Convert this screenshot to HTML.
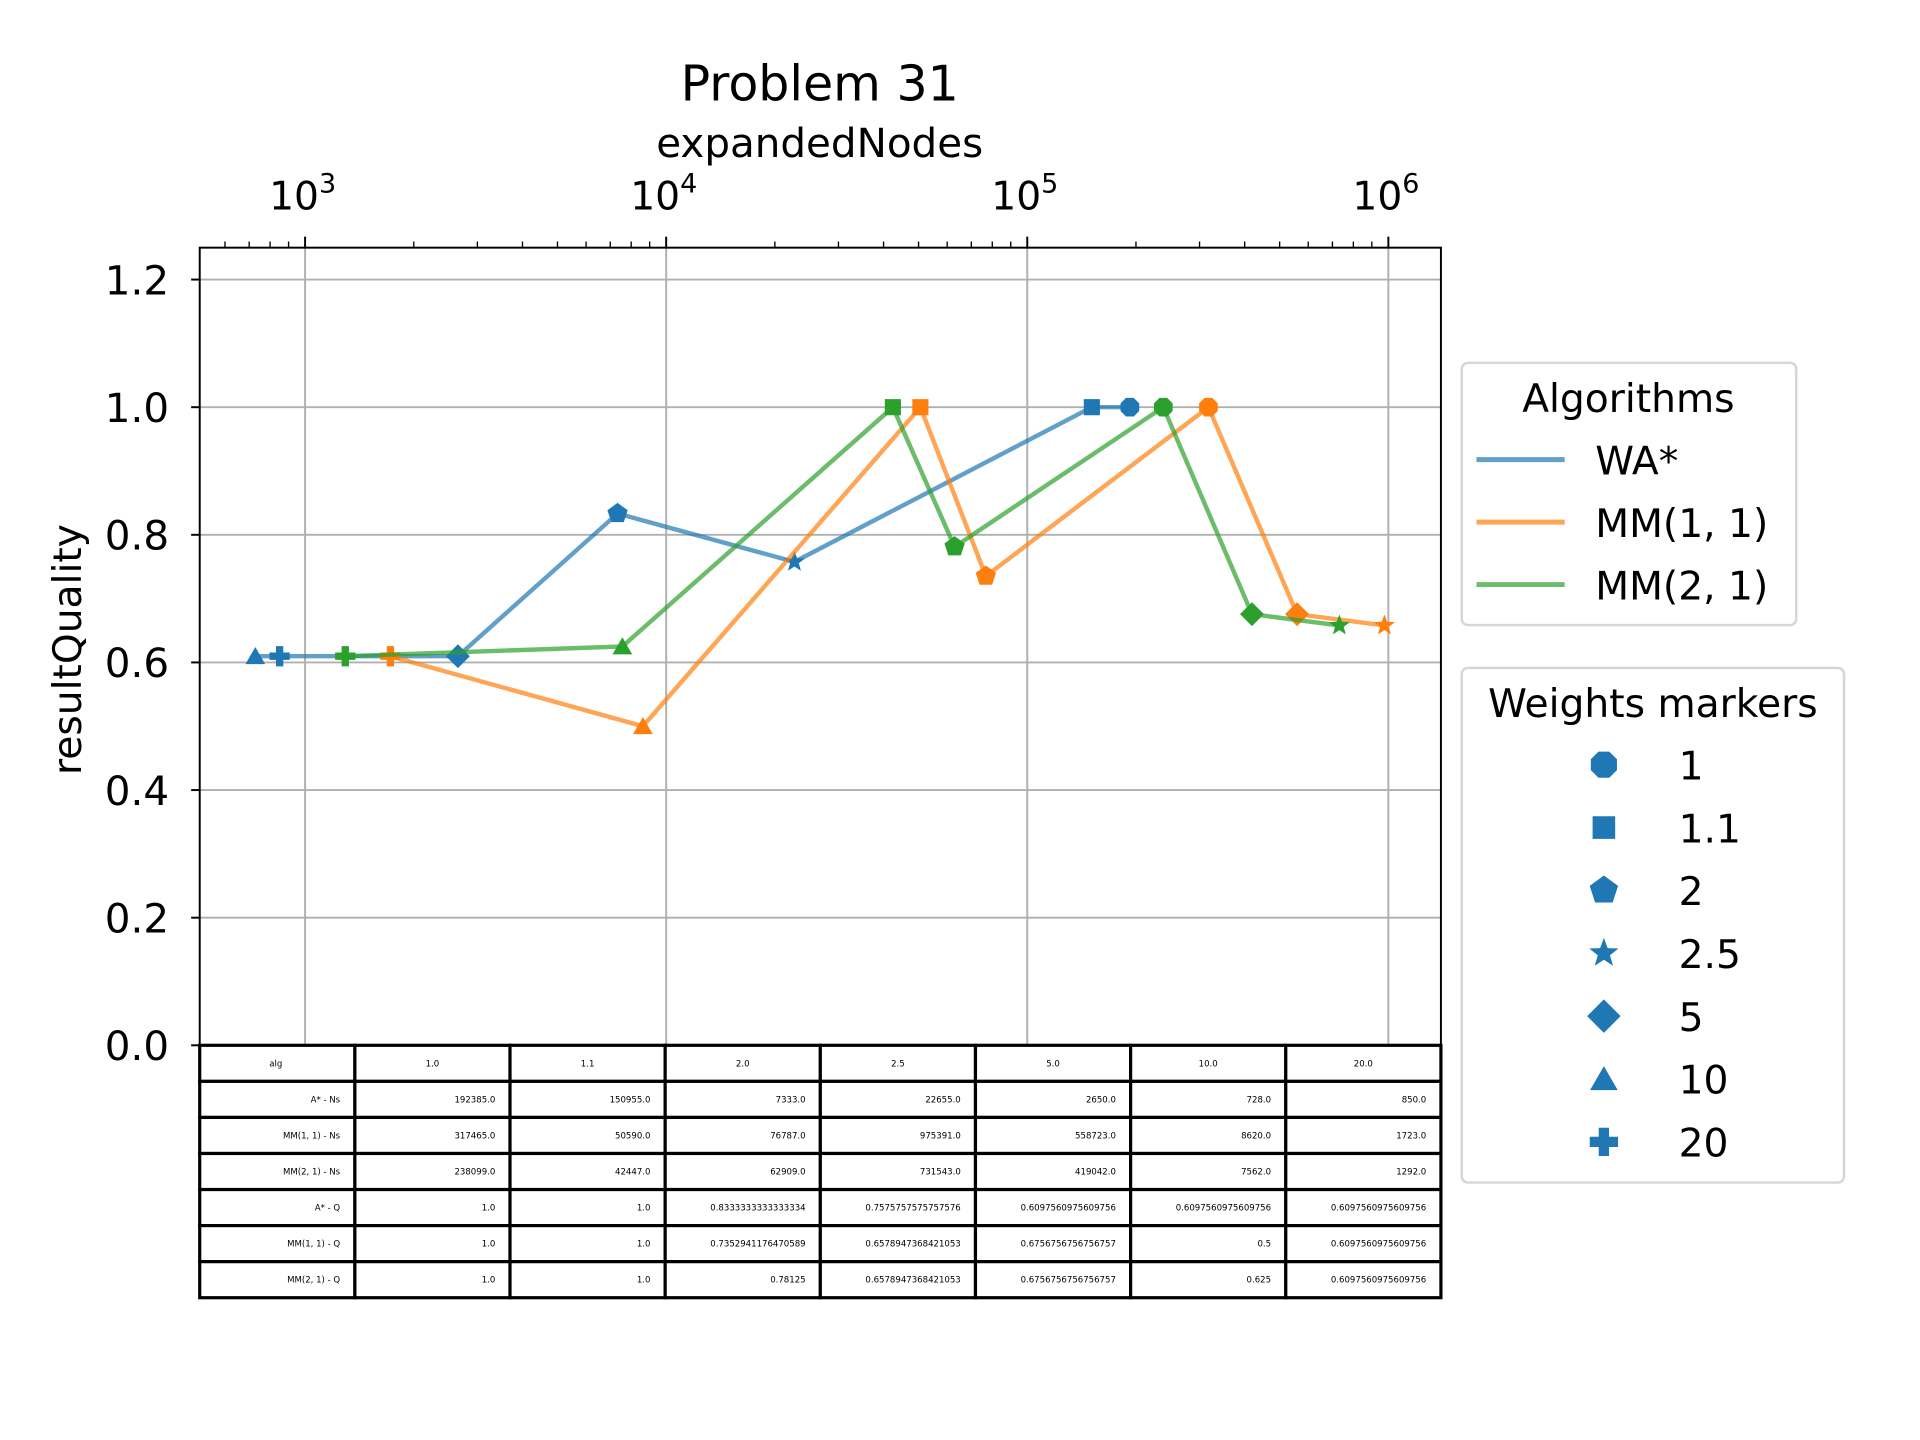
<!DOCTYPE html>
<html><head><meta charset="utf-8"><style>
html,body{margin:0;padding:0;background:#fff;}
svg{display:block;font-family:"DejaVu Sans","Liberation Sans",sans-serif;}
</style></head><body>
<svg id="chart" width="1920" height="1440" viewBox="0 0 1567 1175" xmlns="http://www.w3.org/2000/svg">
<rect width="1567" height="1175" fill="#fff"/>
<g id="grid"></g>
<g id="series"></g>
<g id="axes"></g>
<g id="table"></g>
<g id="legends"></g>
<text x="669" y="82" font-size="40" text-anchor="middle">Problem 31</text>
<text x="669" y="128" font-size="33" text-anchor="middle">expandedNodes</text>
<text x="0" y="0" font-size="32" text-anchor="middle" transform="translate(66,530) rotate(-90)">resultQuality</text>
</svg>
<script>
const weights = ["1","1.1","2","2.5","5","10","20"];
const algNames = ["WA*","MM(1, 1)","MM(2, 1)"];
const colors = ["#1f77b4","#ff7f0e","#2ca02c"];
const markers = ["oct","square","pent","star","diamond","tri","plus"];
const nodesWA = [192385,150955,7333,22655,2650,728,850];
const nodesMM11 = [317465,50590,76787,975391,558723,8620,1723];
const nodesMM21 = [238099,42447,62909,731543,419042,7562,1292];
const qWA = [1.0,1.0,0.8333333333333334,0.7575757575757576,0.6097560975609756,0.6097560975609756,0.6097560975609756];
const qMM11 = [1.0,1.0,0.7352941176470589,0.6578947368421053,0.6756756756756757,0.5,0.6097560975609756];
const qMM21 = [1.0,1.0,0.78125,0.6578947368421053,0.6756756756756757,0.625,0.6097560975609756];
const yTicks = [0,0.2,0.4,0.6,0.8,1.0,1.2];
const xDecades = [3,4,5,6];
const tableHeader = ["alg","1.0","1.1","2.0","2.5","5.0","10.0","20.0"];
const tableRowLabels = ["A* - Ns","MM(1, 1) - Ns","MM(2, 1) - Ns","A* - Q","MM(1, 1) - Q","MM(2, 1) - Q"];
const tableRowValues = [
 ["192385.0","150955.0","7333.0","22655.0","2650.0","728.0","850.0"],
 ["317465.0","50590.0","76787.0","975391.0","558723.0","8620.0","1723.0"],
 ["238099.0","42447.0","62909.0","731543.0","419042.0","7562.0","1292.0"],
 ["1.0","1.0","0.8333333333333334","0.7575757575757576","0.6097560975609756","0.6097560975609756","0.6097560975609756"],
 ["1.0","1.0","0.7352941176470589","0.6578947368421053","0.6756756756756757","0.5","0.6097560975609756"],
 ["1.0","1.0","0.78125","0.6578947368421053","0.6756756756756757","0.625","0.6097560975609756"]
];
const NS="http://www.w3.org/2000/svg";
const L=163,R=1176,T=202,B=853;
const xMin=Math.log10(1000)-(249-L)/294.7, xMax=xMin+(R-L)/294.7;
const yMax=1.25;
function xs(v){return L+(Math.log10(v)-xMin)/(xMax-xMin)*(R-L);}
function ys(v){return B-v/yMax*(B-T);}
function mk(tag,attrs,parent){const e=document.createElementNS(NS,tag);for(const k in attrs)e.setAttribute(k,attrs[k]);parent.appendChild(e);return e;}
function poly(n,r,rot,cx,cy){let p=[];for(let i=0;i<n;i++){const a=rot+i*2*Math.PI/n;p.push((cx+r*Math.cos(a)).toFixed(2)+","+(cy+r*Math.sin(a)).toFixed(2));}return p.join(" ");}
function marker(type,cx,cy,s,color,parent){
 let pts;
 if(type==="oct")pts=poly(8,s*0.55,Math.PI/8,cx,cy);
 else if(type==="square")pts=poly(4,s*0.62,Math.PI/4,cx,cy);
 else if(type==="pent")pts=poly(5,s*0.58,-Math.PI/2,cx,cy);
 else if(type==="diamond")pts=poly(4,s*0.65,0,cx,cy);
 else if(type==="tri")pts=poly(3,s*0.62,-Math.PI/2,cx,cy+s*0.12);
 else if(type==="star"){let p=[];for(let i=0;i<10;i++){const r=i%2?s*0.25:s*0.6;const a=-Math.PI/2+i*Math.PI/5;p.push((cx+r*Math.cos(a)).toFixed(2)+","+(cy+r*Math.sin(a)).toFixed(2));}pts=p.join(" ");}
 else {const a=s*0.55,b=s*0.2;pts=[[-b,-a],[b,-a],[b,-b],[a,-b],[a,b],[b,b],[b,a],[-b,a],[-b,b],[-a,b],[-a,-b],[-b,-b]].map(q=>(cx+q[0])+","+(cy+q[1])).join(" ");}
 return mk("polygon",{points:pts,fill:color},parent);
}
const grid=document.getElementById("grid"),axes=document.getElementById("axes"),series=document.getElementById("series");
yTicks.forEach(v=>{const y=ys(v);
 const g=mk("line",{x1:L,x2:R,y1:y,y2:y,stroke:"#b0b0b0","stroke-width":1.6},grid);
 
 
 mk("line",{x1:L-7,x2:L,y1:y,y2:y,stroke:"#000","stroke-width":1.6},axes);
 const t=mk("text",{x:L-25,y:y+12,"font-size":33,"text-anchor":"end"},axes);t.textContent=v.toFixed(1);
 
 
});
for(let d=2;d<=6;d++){for(let m=1;m<10;m++){const v=m*Math.pow(10,d);const x=xs(v);if(x<L-0.5||x>R+0.5)continue;
 if(m===1){const g=mk("line",{x1:x,x2:x,y1:T,y2:B,stroke:"#b0b0b0","stroke-width":1.6},grid);
  
  
  mk("line",{x1:x,x2:x,y1:T-9,y2:T,stroke:"#000","stroke-width":1.6},axes);}
 else mk("line",{x1:x,x2:x,y1:T-5,y2:T,stroke:"#000","stroke-width":1.1},axes);}}
xDecades.forEach(d=>{const x=xs(Math.pow(10,d));
 const t=mk("text",{x:x-2,y:171,"font-size":32,"text-anchor":"middle"},axes);
 
 
 const a=document.createElementNS(NS,"tspan");a.textContent="10";t.appendChild(a);
 const b=document.createElementNS(NS,"tspan");b.setAttribute("dy","-14");b.setAttribute("font-size","22");b.textContent=String(d);t.appendChild(b);
});
mk("rect",{x:L,y:T,width:R-L,height:B-T,fill:"none",stroke:"#000","stroke-width":1.6},axes);
const allNodes=[nodesWA,nodesMM11,nodesMM21],allQ=[qWA,qMM11,qMM21];
allNodes.forEach((nodes,a)=>{
 const idx=nodes.map((v,i)=>i).sort((i,j)=>nodes[i]-nodes[j]);
 const pl=mk("polyline",{points:idx.map(i=>xs(nodes[i]).toFixed(2)+","+ys(allQ[a][i]).toFixed(2)).join(" "),fill:"none",stroke:colors[a],"stroke-width":3.6,"stroke-opacity":0.7},series);
 
 
 nodes.forEach((v,i)=>{const m=marker(markers[i],xs(v),ys(allQ[a][i]),15,colors[a],series);
  
  });
});
const tb=document.getElementById("table");
const cw=(R-L)/8,rh=(1059-B)/7;
for(let r=0;r<7;r++){for(let c=0;c<8;c++){
 const x=L+c*cw,y=B+r*rh;
 const cell=mk("rect",{x:x,y:y,width:cw,height:rh,fill:"#fff",stroke:"#000","stroke-width":2.6},tb);
 
 
 let txt,anchor,tx;
 if(r===0){txt=tableHeader[c];anchor="middle";tx=c===0?x+cw*0.49:x+cw/2;}
 else{txt=c===0?tableRowLabels[r-1]:tableRowValues[r-1][c-1];anchor="end";tx=x+cw-12;}
 const t=mk("text",{x:tx,y:y+rh/2+2.5,"font-size":7,"text-anchor":anchor},tb);t.textContent=txt;
}}
const lg=document.getElementById("legends");
const b1=mk("rect",{x:1193,y:296,width:273,height:214,rx:5,fill:"#fff",stroke:"#d6d6d6","stroke-width":2},lg);


let t=mk("text",{x:1329,y:336,"font-size":32,"text-anchor":"middle"},lg);t.textContent="Algorithms";
algNames.forEach((n,i)=>{const y=375+i*51;
 mk("line",{x1:1205,x2:1277,y1:y,y2:y,stroke:colors[i],"stroke-width":4,"stroke-opacity":0.7},lg);
 const e=mk("text",{x:1302,y:y+12,"font-size":32},lg);e.textContent=n;
 
 });
const b2=mk("rect",{x:1193,y:545,width:312,height:420,rx:5,fill:"#fff",stroke:"#d6d6d6","stroke-width":2},lg);


t=mk("text",{x:1349,y:585,"font-size":32,"text-anchor":"middle"},lg);t.textContent="Weights markers";
weights.forEach((w,i)=>{const y=624+i*51.3;
 marker(markers[i],1309,y,21,colors[0],lg);
 const e=mk("text",{x:1370,y:y+12,"font-size":32},lg);e.textContent=w;
 
 });
</script>
</body></html>
